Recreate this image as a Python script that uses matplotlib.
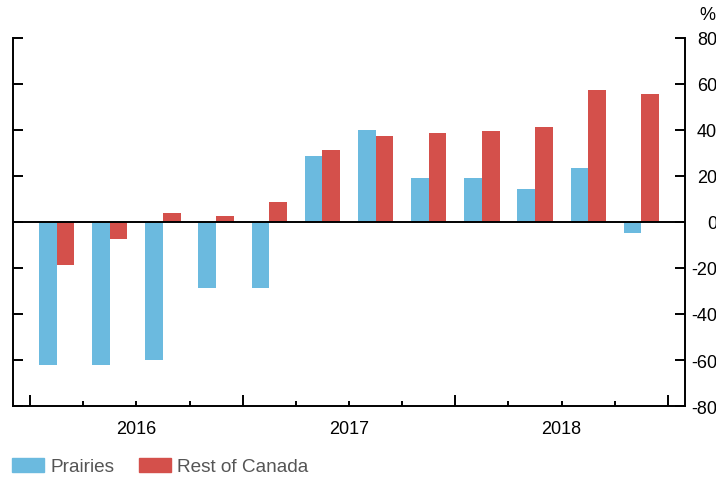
import numpy as np
import matplotlib.pyplot as plt
from matplotlib.patches import Patch

plt.rcParams['font.family'] = ['Liberation Sans', 'DejaVu Sans']
plt.rcParams['axes.unicode_minus'] = False

# quarterly, 2016Q1 - 2018Q4
quarters = ['2016Q1', '2016Q2', '2016Q3', '2016Q4',
            '2017Q1', '2017Q2', '2017Q3', '2017Q4',
            '2018Q1', '2018Q2', '2018Q3', '2018Q4']
years = ['2016', '2017', '2018']
prairies = [-62, -62, -60, -28.7, -28.7, 28.6, 40, 19, 19, 14.2, 23.6, -4.8]
rest_of_canada = [-18.7, -7.5, 3.8, 2.5, 8.8, 31.2, 37.4, 38.7, 39.4, 41.3, 57.6, 55.5]

blue = '#6bbadf'
red = '#d4504b'

fig = plt.figure(figsize=(7.16, 4.81), dpi=100)
ax = fig.add_axes([13/716, (481-407)/481, 672/716, 368/481])

x = np.arange(len(quarters))
w = 1/3
ax.bar(x - w/2, prairies, w, color=blue, label='Prairies')
ax.bar(x + w/2, rest_of_canada, w, color=red, label='Rest of Canada')
ax.axhline(0, color='black', lw=1.4, zorder=3)

ax.set_xlim(-0.82, 11.82)
ax.set_ylim(-80, 80)

ax.spines['top'].set_visible(False)
for s in ['left', 'right', 'bottom']:
    ax.spines[s].set_linewidth(1.4)

# y ticks: inward on both sides, labels on the right (right-aligned at the edge)
ax.set_yticks(np.arange(-80, 81, 20))
ax.tick_params(axis='y', which='both', direction='in', left=True, right=True,
               labelleft=False, labelright=True, length=7.5, width=1.4,
               labelsize=13, pad=23)
for lab in ax.get_yticklabels():
    lab.set_horizontalalignment('right')

# x ticks: tall at year boundaries, short at quarter boundaries
ax.set_xticks(np.arange(-0.5, 12, 4))
ax.set_xticks(np.arange(-0.5, 12, 1), minor=True)
ax.tick_params(axis='x', which='major', direction='in', length=8, width=1.4,
               labelbottom=False)
ax.tick_params(axis='x', which='minor', direction='in', length=3.8, width=1.4)

sec = ax.secondary_xaxis('bottom')
sec.set_xticks([1.5, 5.5, 9.5], labels=years)
sec.tick_params(length=0, labelsize=13, pad=10)
sec.spines['bottom'].set_visible(False)

ax.text(1.034, 1.065, '%', transform=ax.transAxes, fontsize=13,
        ha='center', va='center')

handles = [Patch(color=blue), Patch(color=red)]
leg = fig.legend(handles, ['Prairies', 'Rest of Canada'], loc='lower left',
                 bbox_to_anchor=(4.5/716, -3/481), ncol=2, frameon=False,
                 fontsize=13.7, handlelength=1.68, handleheight=0.74,
                 handletextpad=0.32, columnspacing=1.3, borderaxespad=0)
for t in leg.get_texts():
    t.set_color('#555555')

fig.savefig('out.png', dpi=100)
